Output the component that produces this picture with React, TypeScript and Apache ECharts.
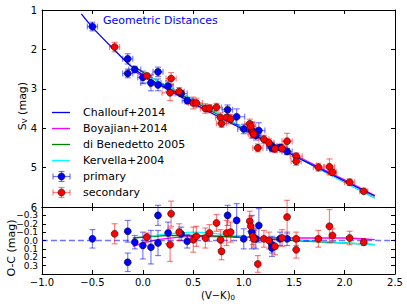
import React, { useEffect, useRef } from 'react';
import * as echarts from 'echarts';

// ---- data ----
// primary components: (V-K)0, S_V, O-C, error in S_V / O-C, error in (V-K)0
const primaryVK = [-0.5, -0.15, -0.15, -0.08, 0.0, 0.08, 0.15, 0.15, 0.25, 0.38, 0.44, 0.84, 0.93, 1.0, 1.08, 1.15, 1.12, 1.28, 1.28, 1.36, 1.43];
const primarySV = [1.42, 2.24, 2.61, 2.51, 2.71, 2.85, 2.57, 2.9, 2.93, 3.12, 3.3, 3.53, 3.71, 4.02, 4.05, 4.06, 4.18, 4.46, 4.5, 4.49, 4.59];
const primaryOC = [-0.02, -0.11, 0.26, 0.02, 0.06, 0.08, -0.3, 0.03, -0.09, -0.08, 0.01, -0.3, -0.24, -0.02, -0.1, -0.18, -0.02, 0.05, 0.09, -0.02, -0.02];
const primaryErr = [0.11, 0.13, 0.11, 0.08, 0.16, 0.2, 0.12, 0.15, 0.13, 0.08, 0.08, 0.12, 0.2, 0.12, 0.2, 0.2, 0.12, 0.1, 0.1, 0.08, 0.08];
const primaryXErr = [0.05, 0.05, 0.05, 0.06, 0.05, 0.1, 0.05, 0.08, 0.05, 0.06, 0.05, 0.05, 0.08, 0.06, 0.05, 0.06, 0.05, 0.05, 0.05, 0.06, 0.05];

// secondary components
const secondaryVK = [-0.28, 0.04, 0.28, 0.27, 0.36, 0.5, 0.53, 0.62, 0.66, 0.73, 0.77, 0.78, 0.83, 0.87, 1.06, 1.07, 1.09, 1.1, 1.14, 1.2, 1.25, 1.31, 1.43, 1.38, 1.52, 1.52, 1.74, 1.85, 1.88, 2.05, 2.19];
const secondarySV = [1.94, 2.67, 2.74, 3.1, 3.07, 3.36, 3.36, 3.5, 3.5, 3.47, 3.73, 3.88, 3.73, 3.77, 3.89, 3.96, 4.11, 4.15, 4.5, 4.28, 4.37, 4.52, 4.33, 4.51, 4.71, 4.84, 4.99, 4.98, 5.12, 5.37, 5.6];
const secondaryOC = [-0.08, -0.04, -0.32, 0.05, -0.1, -0.01, -0.05, -0.03, -0.09, -0.21, -0.01, 0.13, -0.09, -0.1, -0.23, -0.17, -0.05, -0.02, 0.28, -0.02, 0.0, 0.07, -0.28, -0.03, -0.02, 0.11, -0.02, -0.17, -0.06, -0.03, 0.02];
const secondaryErr = [0.12, 0.05, 0.15, 0.2, 0.1, 0.15, 0.12, 0.12, 0.1, 0.1, 0.12, 0.1, 0.15, 0.12, 0.12, 0.12, 0.1, 0.1, 0.1, 0.1, 0.1, 0.1, 0.2, 0.1, 0.08, 0.1, 0.1, 0.2, 0.08, 0.08, 0.04];
const secondaryXErr = [0.05, 0.05, 0.05, 0.08, 0.05, 0.05, 0.06, 0.05, 0.05, 0.05, 0.05, 0.05, 0.05, 0.05, 0.05, 0.05, 0.05, 0.05, 0.05, 0.05, 0.05, 0.05, 0.05, 0.05, 0.06, 0.05, 0.05, 0.05, 0.04, 0.05, 0.04];

// surface-brightness relations (top panel)
const challoufVK = [-0.61, -0.5, -0.28, -0.15, 0.0, 0.25, 0.5, 0.75, 1.0, 1.25, 1.5, 1.75, 2.0, 2.3];
const challoufSV = [1.1, 1.44, 2.02, 2.35, 2.65, 3.02, 3.37, 3.71, 4.04, 4.37, 4.7, 5.02, 5.34, 5.72];
const boyajianVK = [-0.1, 0.0, 0.2, 0.5, 1.0, 1.5, 2.0, 2.3];
const boyajianSV = [2.52, 2.68, 2.93, 3.32, 4.0, 4.67, 5.31, 5.71];
const diBenedettoVK = [-0.1, 0.25, 0.5, 1.0, 1.5, 2.0, 2.3];
const diBenedettoSV = [2.42, 2.96, 3.31, 4.0, 4.7, 5.37, 5.77];
const kervellaVK = [0.0, 0.25, 0.5, 0.75, 1.0, 1.5, 2.0, 2.3];
const kervellaSV = [2.61, 2.94, 3.27, 3.63, 3.99, 4.69, 5.37, 5.77];

// relations relative to Challouf+2014 (bottom panel)
const boyajianRes = [0.07, 0.03, -0.02, -0.05, -0.04, -0.03, -0.03, -0.01];
const diBenedettoRes = [-0.03, -0.06, -0.06, -0.04, 0.0, 0.03, 0.05];
const kervellaRes = [-0.04, -0.08, -0.1, -0.08, -0.05, -0.01, 0.03, 0.05];
const zeroVK = [-1.0, 2.5];
const zeroRes = [0, 0];

const legendNames = ['Challouf+2014', 'Boyajian+2014', 'di Benedetto 2005', 'Kervella+2004'];
const legendPoints = ['primary', 'secondary'];

const BLUE = '#0000ff';
const MAGENTA = '#ff00ff';
const GREEN = '#008000';
const CYAN = '#00ffff';
const RED = '#ff0000';
const FONT = 'DejaVu Sans';

const minus = (s: string) => s.replace('-', '\u2212');

function zip(a: number[], b: number[]) {
  return a.map((v, i) => [v, b[i]]);
}

function errRender(color: string, withX: boolean) {
  return (params: any, api: any) => {
    const x = api.value(0);
    const y = api.value(1);
    const xe = api.value(2);
    const ye = api.value(3);
    const t = api.coord([x, y - ye]);
    const b = api.coord([x, y + ye]);
    const st = { stroke: color, lineWidth: 1.2 };
    const cap = 3;
    const children: any[] = [
      { type: 'line', shape: { x1: t[0], y1: t[1], x2: b[0], y2: b[1] }, style: st },
      { type: 'line', shape: { x1: t[0] - cap, y1: t[1], x2: t[0] + cap, y2: t[1] }, style: st },
      { type: 'line', shape: { x1: b[0] - cap, y1: b[1], x2: b[0] + cap, y2: b[1] }, style: st },
    ];
    if (withX && xe > 0) {
      const l = api.coord([x - xe, y]);
      const r = api.coord([x + xe, y]);
      children.push(
        { type: 'line', shape: { x1: l[0], y1: l[1], x2: r[0], y2: r[1] }, style: st },
        { type: 'line', shape: { x1: l[0], y1: l[1] - cap, x2: l[0], y2: l[1] + cap }, style: st },
        { type: 'line', shape: { x1: r[0], y1: r[1] - cap, x2: r[0], y2: r[1] + cap }, style: st },
      );
    }
    return { type: 'group', children };
  };
}

export default function App() {
  const ref = useRef<HTMLDivElement>(null);
  useEffect(() => {
    if (!ref.current) return;
    const chart = echarts.init(ref.current, null, { renderer: 'svg' });

    const axisLine = { show: true, onZero: false, lineStyle: { color: '#000', width: 1 } };
    const tick = { show: true, inside: true, length: 4, lineStyle: { color: '#000' } };
    const xBase = { type: 'value', min: -1, max: 2.5, interval: 0.5, splitLine: { show: false }, axisLine, axisTick: tick };
    const fmtX = (v: number) => minus(v.toFixed(1));
    const fmtOC = (v: number) => (Math.abs(v + 0.4) < 1e-6 ? '' : minus((Math.abs(v) < 1e-9 ? 0 : v).toFixed(1)));

    const primaryTop = primaryVK.map((x, i) => [x, primarySV[i], primaryXErr[i], primaryErr[i]]);
    const secondaryTop = secondaryVK.map((x, i) => [x, secondarySV[i], secondaryXErr[i], secondaryErr[i]]);
    const primaryBot = primaryVK.map((x, i) => [x, primaryOC[i], 0, primaryErr[i]]);
    const secondaryBot = secondaryVK.map((x, i) => [x, secondaryOC[i], 0, secondaryErr[i]]);

    const fitLine = (data: number[][], color: string, xi: number, yi: number, z: number, extra: any = {}) => ({
      type: 'line', xAxisIndex: xi, yAxisIndex: yi, data, smooth: 0.3, showSymbol: false, symbol: 'none', z,
      lineStyle: { color, width: 1.3, ...extra }, silent: true,
    });

    const legendY = [112.5, 128.5, 144.5, 160.5];
    const legendColors = [BLUE, MAGENTA, GREEN, CYAN];
    const legendPY = [176.5, 192.5];
    const legendPColors = [BLUE, RED];
    const legendPErr = ['rgba(0,0,255,0.55)', 'rgba(255,0,0,0.5)'];

    const graphic: any[] = [];
    legendNames.forEach((n, i) => {
      graphic.push({ type: 'line', shape: { x1: 52, y1: legendY[i], x2: 70, y2: legendY[i] }, style: { stroke: legendColors[i], lineWidth: 1.3 }, z: 100 });
      graphic.push({ type: 'text', x: 83, y: legendY[i], style: { text: n, fontFamily: FONT, fontSize: 11, fill: '#000', verticalAlign: 'middle' }, z: 100 });
    });
    legendPoints.forEach((n, i) => {
      const y = legendPY[i];
      const st = { stroke: legendPErr[i], lineWidth: 1.2 };
      graphic.push({ type: 'line', shape: { x1: 53, y1: y, x2: 70, y2: y }, style: st, z: 100 });
      graphic.push({ type: 'line', shape: { x1: 53, y1: y - 3, x2: 53, y2: y + 3 }, style: st, z: 100 });
      graphic.push({ type: 'line', shape: { x1: 70, y1: y - 3, x2: 70, y2: y + 3 }, style: st, z: 100 });
      graphic.push({ type: 'line', shape: { x1: 61.5, y1: y - 5, x2: 61.5, y2: y + 5 }, style: st, z: 100 });
      graphic.push({ type: 'line', shape: { x1: 58.5, y1: y - 5, x2: 64.5, y2: y - 5 }, style: st, z: 100 });
      graphic.push({ type: 'line', shape: { x1: 58.5, y1: y + 5, x2: 64.5, y2: y + 5 }, style: st, z: 100 });
      graphic.push({ type: 'circle', shape: { cx: 61.5, cy: y, r: 3.5 }, style: { fill: legendPColors[i], stroke: '#000', lineWidth: 0.5 }, z: 101 });
      graphic.push({ type: 'text', x: 83, y, style: { text: n, fontFamily: FONT, fontSize: 11, fill: '#000', verticalAlign: 'middle' }, z: 100 });
    });
    graphic.push({ type: 'text', x: 103, y: 20, style: { text: 'Geometric Distances', fontFamily: FONT, fontSize: 11, fill: BLUE, verticalAlign: 'middle' }, z: 100 });
    graphic.push({
      type: 'text', x: 22, y: 106, rotation: Math.PI / 2,
      style: {
        text: '{a|S}{s|V}{a| (mag)}', align: 'center', verticalAlign: 'middle', fill: '#000',
        rich: { a: { fontFamily: FONT, fontSize: 11 }, s: { fontFamily: FONT, fontSize: 7, padding: [6, 0, 0, 0] } },
      }, z: 100,
    });
    graphic.push({
      type: 'text', x: 11, y: 248, rotation: Math.PI / 2,
      style: { text: 'O-C (mag)', fontFamily: FONT, fontSize: 11, align: 'center', verticalAlign: 'middle', fill: '#000' }, z: 100,
    });
    graphic.push({
      type: 'text', x: 218, y: 295,
      style: {
        text: '{a|(V\u2212K)}{s|0}', align: 'center', verticalAlign: 'middle', fill: '#000',
        rich: { a: { fontFamily: FONT, fontSize: 10 }, s: { fontFamily: FONT, fontSize: 7, padding: [5, 0, 0, 0] } },
      }, z: 100,
    });

    chart.setOption({
      animation: false,
      backgroundColor: '#fff',
      textStyle: { fontFamily: FONT },
      grid: [
        { left: 42, top: 10, width: 353, height: 197 },
        { left: 42, top: 207, width: 353, height: 67 },
      ],
      xAxis: [
        { ...xBase, gridIndex: 0, position: 'bottom', axisLabel: { show: false } },
        { ...xBase, gridIndex: 0, position: 'top', axisLabel: { show: false } },
        { ...xBase, gridIndex: 1, position: 'bottom', axisLabel: { show: true, fontSize: 10, color: '#000', fontFamily: FONT, margin: 3, formatter: fmtX } },
        { ...xBase, gridIndex: 1, position: 'top', axisLabel: { show: false } },
      ],
      yAxis: [
        { type: 'value', gridIndex: 0, position: 'left', inverse: true, min: 1, max: 6, interval: 1, splitLine: { show: false }, axisLine, axisTick: tick,
          axisLabel: { fontSize: 10, color: '#000', fontFamily: FONT, margin: 5, lineHeight: 8 } },
        { type: 'value', gridIndex: 0, position: 'right', inverse: true, min: 1, max: 6, interval: 1, splitLine: { show: false }, axisLine, axisTick: tick, axisLabel: { show: false } },
        { type: 'value', gridIndex: 1, position: 'left', inverse: true, min: -0.4, max: 0.4, interval: 0.1, splitLine: { show: false }, axisLine, axisTick: tick,
          axisLabel: { fontSize: 9, color: '#000', fontFamily: FONT, margin: 4, formatter: fmtOC, lineHeight: 8 } },
        { type: 'value', gridIndex: 1, position: 'right', inverse: true, min: -0.4, max: 0.4, interval: 0.1, splitLine: { show: false }, axisLine, axisTick: tick, axisLabel: { show: false } },
      ],
      graphic,
      series: [
        fitLine(zip(challoufVK, challoufSV), BLUE, 0, 0, 5),
        fitLine(zip(boyajianVK, boyajianSV), MAGENTA, 0, 0, 4),
        fitLine(zip(diBenedettoVK, diBenedettoSV), GREEN, 0, 0, 4),
        fitLine(zip(kervellaVK, kervellaSV), CYAN, 0, 0, 4),
        { type: 'custom', xAxisIndex: 0, yAxisIndex: 0, data: primaryTop, renderItem: errRender('rgba(0,0,255,0.5)', true), encode: { x: 0, y: 1 }, z: 6, silent: true },
        { type: 'custom', xAxisIndex: 0, yAxisIndex: 0, data: secondaryTop, renderItem: errRender('rgba(255,0,0,0.5)', true), encode: { x: 0, y: 1 }, z: 6, silent: true },
        { type: 'scatter', xAxisIndex: 0, yAxisIndex: 0, data: zip(primaryVK, primarySV), symbolSize: 7, z: 7,
          itemStyle: { color: BLUE, borderColor: '#000', borderWidth: 0.5, opacity: 1 } },
        { type: 'scatter', xAxisIndex: 0, yAxisIndex: 0, data: zip(secondaryVK, secondarySV), symbolSize: 7, z: 7,
          itemStyle: { color: RED, borderColor: '#000', borderWidth: 0.5, opacity: 1 } },

        fitLine(zip(zeroVK, zeroRes), 'rgba(0,0,255,0.55)', 2, 2, 5, { type: [6, 3], width: 1.5 }),
        fitLine(zip(boyajianVK, boyajianRes), MAGENTA, 2, 2, 4),
        fitLine(zip(diBenedettoVK, diBenedettoRes), GREEN, 2, 2, 4),
        fitLine(zip(kervellaVK, kervellaRes), CYAN, 2, 2, 4),
        { type: 'custom', xAxisIndex: 2, yAxisIndex: 2, data: primaryBot, renderItem: errRender('rgba(0,0,255,0.5)', false), encode: { x: 0, y: 1 }, z: 6, silent: true },
        { type: 'custom', xAxisIndex: 2, yAxisIndex: 2, data: secondaryBot, renderItem: errRender('rgba(255,0,0,0.5)', false), encode: { x: 0, y: 1 }, z: 6, silent: true },
        { type: 'scatter', xAxisIndex: 2, yAxisIndex: 2, data: zip(primaryVK, primaryOC), symbolSize: 7, z: 7,
          itemStyle: { color: BLUE, borderColor: '#000', borderWidth: 0.5, opacity: 1 } },
        { type: 'scatter', xAxisIndex: 2, yAxisIndex: 2, data: zip(secondaryVK, secondaryOC), symbolSize: 7, z: 7,
          itemStyle: { color: RED, borderColor: '#000', borderWidth: 0.5, opacity: 1 } },
      ],
    });
    return () => chart.dispose();
  }, []);
  return <div ref={ref} style={{ position: 'fixed', left: 0, top: 0, width: 407, height: 307, background: '#fff' }} />;
}
